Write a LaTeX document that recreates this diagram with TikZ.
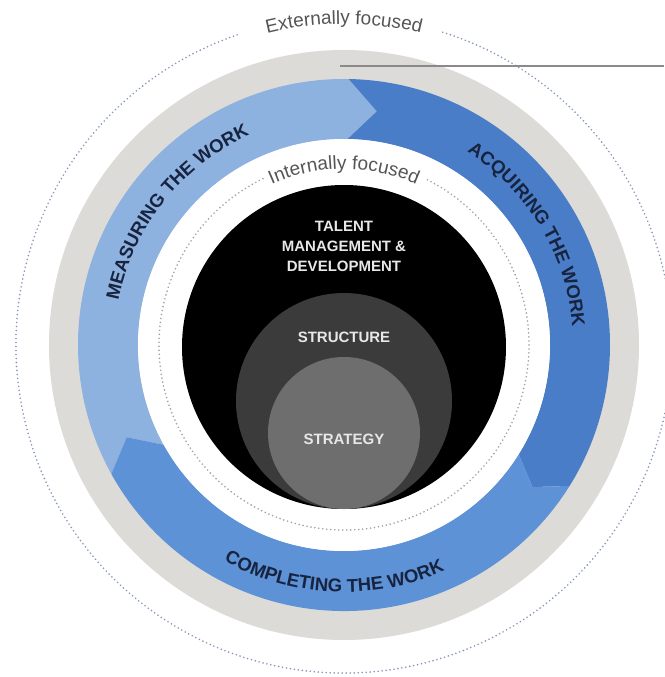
\documentclass[tikz,border=0pt]{standalone}
\usepackage{fontspec}
\setmainfont{Liberation Sans}
\newfontfamily\diagfont{Liberation Sans}
\usetikzlibrary{decorations.text}
\definecolor{ringgray}{HTML}{DDDBD7}
\definecolor{lightblue}{HTML}{8EB2DF}
\definecolor{darkblue}{HTML}{4A7DC7}
\definecolor{midblue}{HTML}{5D92D6}
\definecolor{navytext}{HTML}{17233F}
\definecolor{outerdot}{HTML}{8797BA}
\definecolor{innerdot}{HTML}{9EA2AB}
\definecolor{focustext}{HTML}{555555}
\definecolor{structgray}{HTML}{3B3B3B}
\definecolor{strategygray}{HTML}{6E6E6E}
\definecolor{coretext}{HTML}{E8E8E8}
\definecolor{calloutgray}{HTML}{8A8A8A}
\tikzset{
  dotring/.style={line width=1.8pt, dash pattern=on 0pt off 4pt, line cap=round},
  ringlabel/.style={decorate, decoration={text along path, text align=center,
      text color=navytext,
      text={|\diagfont\bfseries\fontsize{18.5}{20}\selectfont|#1}}},
  focuslabel/.style={decorate, decoration={text along path, text align=center,
      text color=focustext,
      text={|\diagfont\fontsize{19}{20}\selectfont|#1}}},
  corelabel/.style={text=coretext, font=\diagfont\bfseries\fontsize{15}{20}\selectfont, align=center, inner sep=0pt},
  callout/.style={draw=calloutgray, line width=1.4pt}
}
\begin{document}
\begin{tikzpicture}[x=1pt,y=1pt]
\useasboundingbox (-344,-332) rectangle (320,345);
\fill[white] (-344,-332) rectangle (320,345);

% outer dotted circle with gap for the label
\draw[dotring, draw=outerdot] (109:328) arc[start angle=109, end angle=433, radius=328];
\path[focuslabel={Externally focused}] (130:321) arc[start angle=130, end angle=50, radius=321];

% gray ring
\fill[ringgray] (0,0) circle[radius=295];

% callout line
\coordinate (calloutstart) at (-4,279);
\coordinate (calloutend) at (320,279);
\draw[callout] (calloutstart) -- (calloutend);

% blue segments
\fill[lightblue] (89:266) arc[start angle=89, end angle=209, radius=266] -- (203:236)
  -- (209:206) arc[start angle=209, end angle=89, radius=206] -- (82:236) -- cycle;
\fill[darkblue] (89:266) arc[start angle=89, end angle=-32, radius=266] -- (-37:236)
  -- (-32:206) arc[start angle=-32, end angle=89, radius=206] -- (82:236) -- cycle;
\fill[midblue] (209:266) arc[start angle=209, end angle=328, radius=266] -- (323:236)
  -- (328:206) arc[start angle=328, end angle=209, radius=206] -- (203:236) -- cycle;

% ring labels
\path[ringlabel={MEASURING THE WORK}] (181.5:230) arc[start angle=181.5, end angle=101.5, radius=230];
\path[ringlabel={ACQUIRING THE WORK}] (71:229) arc[start angle=71, end angle=-9, radius=229];
\path[ringlabel={COMPLETING THE WORK}] (227.5:247) arc[start angle=227.5, end angle=307.5, radius=247];

% inner white area
\fill[white] (0,0) circle[radius=206];
\draw[dotring, draw=innerdot] (116:185) arc[start angle=116, end angle=424, radius=185];
\path[focuslabel={Internally focused}] (125:176) arc[start angle=125, end angle=55, radius=176];

% core circles
\fill[black] (0,-2) circle[radius=162];
\fill[structgray] (0,-56) circle[radius=108];
\fill[strategygray] (0,-88) circle[radius=76];

\node[corelabel] (talent) at (0,98.5) {TALENT\\MANAGEMENT \&\\DEVELOPMENT};
\node[corelabel] (structure) at (0,8) {STRUCTURE};
\node[corelabel] (strategy) at (0,-94) {STRATEGY};
\end{tikzpicture}
\end{document}
